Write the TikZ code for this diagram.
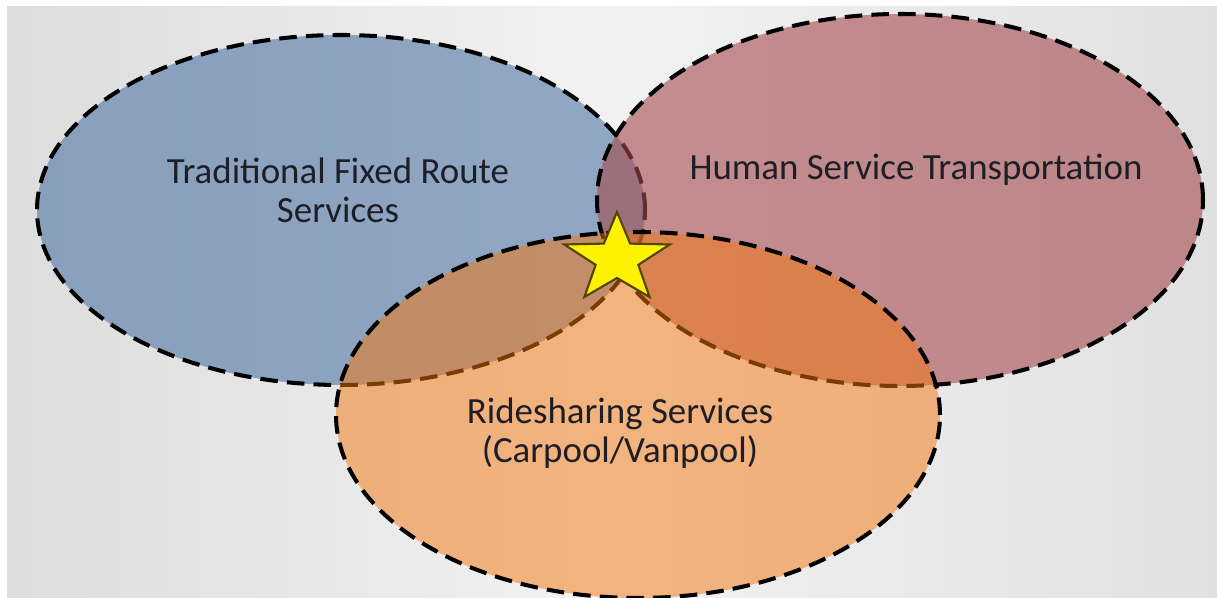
\documentclass[tikz,border=0pt]{standalone}
\usepackage{fontspec}
\setmainfont{Carlito}
\usetikzlibrary{shapes.geometric}

\definecolor{fixedblue}{RGB}{80,117,165}
\definecolor{humanred}{RGB}{165,75,79}
\definecolor{rideorange}{RGB}{244,118,14}
\definecolor{staredge}{RGB}{80,70,0}
\definecolor{labelink}{RGB}{30,30,38}
\pgfdeclarehorizontalshading{backshade}{100bp}{color(0bp)=(black!22); color(50bp)=(black!5); color(100bp)=(black!19)}

\begin{document}
\begin{tikzpicture}

\tikzset{
  venn/.style={line width=1.15pt, dash pattern=on 5pt off 2.6pt, draw=black, fill opacity=0.6, draw opacity=1},
  starshape/.style={fill=yellow, draw=staredge, line width=0.6pt, line join=miter},
  venntext/.style={text=labelink, align=center, font=\fontsize{10.5}{11.1}\selectfont}
}

\useasboundingbox (0,0) rectangle (12.17,5.98);
\fill[white] (0,0) rectangle (12.17,5.98);
\shade[shading=backshade] (0.07,0) rectangle (12.17,5.91);

\draw[venn, fill=fixedblue] (3.41,3.88) ellipse [x radius=3.04, y radius=1.75];
\draw[venn, fill=humanred] (9.00,3.98) ellipse [x radius=3.03, y radius=1.86];
\draw[venn, fill=rideorange, fill opacity=0.5] (6.38,1.83) ellipse [x radius=3.02, y radius=1.83];

\draw[starshape, shift={(6.17,3.39)}, xscale=1.18]
  (90:0.47) -- (126:0.19) -- (162:0.47) -- (198:0.19) -- (234:0.47) --
  (270:0.19) -- (306:0.47) -- (342:0.19) -- (18:0.47) -- (54:0.19) -- cycle;

\node[venntext] (fixedroute) at (3.38,4.08) {Traditional Fixed Route\\Services};
\node[venntext] (humanservice) at (9.16,4.28) {Human Service Transportation};
\node[venntext] (ridesharing) at (6.20,1.65) {Ridesharing Services\\(Carpool/Vanpool)};

\end{tikzpicture}
\end{document}
